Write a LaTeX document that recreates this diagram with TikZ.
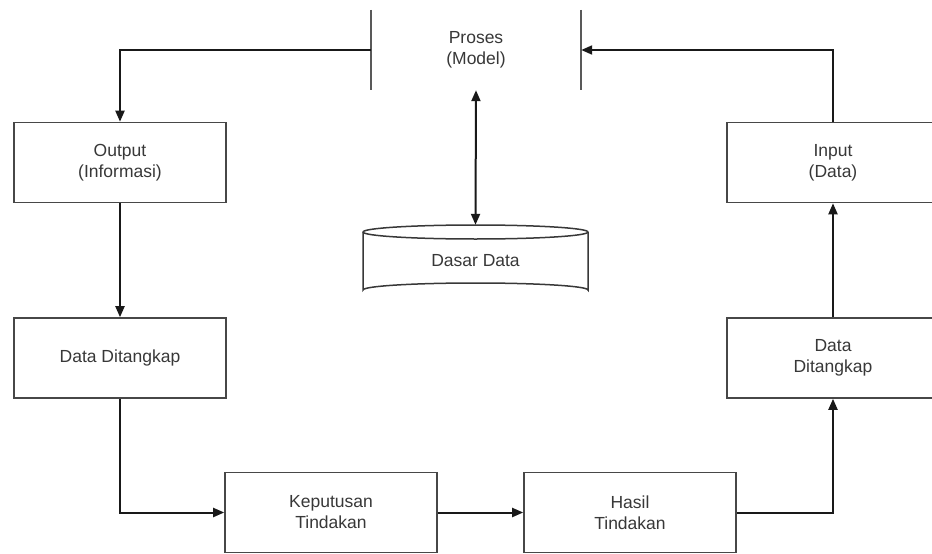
\documentclass[tikz,border=0pt]{standalone}
\usepackage{fontspec}
\setmainfont{Liberation Sans}
\usetikzlibrary{arrows.meta}
\begin{document}
\begin{tikzpicture}[x=1pt,y=-1pt,
  font=\fontsize{17.5}{21}\selectfont,
  every node/.style={text=black!78, align=center},
  box/.style={draw=black!72, line width=1.6pt, minimum width=212pt, minimum height=80pt, inner sep=0pt},
  flow/.style={draw=black!90, line width=2pt, -{Triangle[length=11pt,width=9pt]}},
  flow2/.style={draw=black!90, line width=2pt, {Triangle[length=11pt,width=9pt]}-{Triangle[length=11pt,width=9pt]}}]
\clip (0,0) rectangle (932,554);
\fill[white] (0,0) rectangle (932,554);

% process between two bars
\node (proses) [minimum width=210pt, minimum height=80pt, inner sep=0pt] at (476,50) {Proses\\(Model)};
\draw[black!65, line width=1.5pt] (proses.north west) -- (proses.south west);
\draw[black!65, line width=1.5pt] (proses.north east) -- (proses.south east);

% left column
\node (out) [box] at (120,162.5) {Output\\(Informasi)};
\node (dl) [box] at (120,358) {Data Ditangkap};

% right column (boxes run past the right margin)
\node (inp) [box] at (833,162.5) {Input\\(Data)};
\node (dr) [box] at (833,358) {Data\\Ditangkap};

% bottom row
\node (kep) [box] at (331,512.5) {Keputusan\\Tindakan};
\node (has) [box] at (630,512.5) {Hasil\\Tindakan};

% database cylinder
\node (db) [minimum width=225pt, minimum height=72pt, inner sep=0pt] at (475.5,261) {\raisebox{-7pt}{Dasar Data}};
\begin{scope}[black!78, line width=1.5pt]
  \draw (363,232) arc[start angle=180, end angle=0, x radius=112.5, y radius=7];
  \draw (363,232) arc[start angle=180, end angle=360, x radius=112.5, y radius=7];
  \draw (363,232) -- (363,290) arc[start angle=180, end angle=360, x radius=112.5, y radius=7] -- (588,232);
\end{scope}

% connectors
\draw[flow] (proses.west) -| (out.north);
\draw[flow] (out.south) -- (dl.north);
\draw[flow] (dl.south) |- (kep.west);
\draw[flow] (kep.east) -- (has.west);
\draw[flow] (has.east) -| (dr.south);
\draw[flow] (dr.north) -- (inp.south);
\draw[flow] (inp.north) |- (proses.east);
\draw[flow2] (proses.south) -- (db.north);
\end{tikzpicture}
\end{document}
